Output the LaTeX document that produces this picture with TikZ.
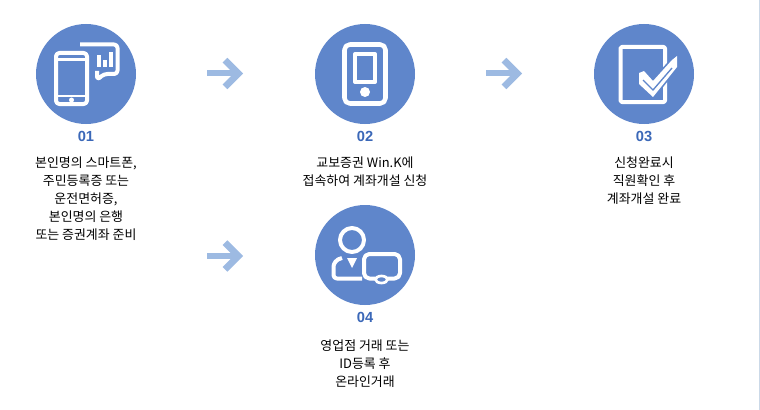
\documentclass[tikz,border=0pt]{standalone}
\usepackage{fontspec}
\setmainfont{Noto Sans CJK KR}
\newfontfamily\numfont{Liberation Sans}
\usetikzlibrary{arrows.meta}
\definecolor{circleblue}{HTML}{5F86CB}
\definecolor{arrowblue}{HTML}{9DBAE2}
\definecolor{numblue}{HTML}{3B68B8}
\definecolor{edgeline}{HTML}{CBD9E8}
\tikzset{
	stepcircle/.style = {circle, fill=circleblue, minimum size=75pt, inner sep=0pt},
	numlabel/.style = {text=numblue, font=\numfont\fontsize{11}{12}\selectfont\bfseries},
	desc/.style = {align=center, font=\fontsize{9.7}{13.5}\selectfont},
	icon/.style = {draw=white, line width=3pt, rounded corners=2.5pt, line join=round},
	flow/.style = {draw=arrowblue, line width=4.5pt, -{Straight Barb[length=10pt, width=20pt, line width=5pt]}},
}
\begin{document}
\begin{tikzpicture}[x=0.75pt, y=-0.75pt]
	\useasboundingbox (0,0) rectangle (760,410);
	\draw[draw=edgeline, line width=0.75pt] (759.5,0) -- (759.5,410);

	\node[stepcircle] (c1) at (86,74) {};
	\node[stepcircle] (c2) at (365,74) {};
	\node[stepcircle] (c3) at (644,74) {};
	\node[stepcircle] (c4) at (365,255) {};

	\node[numlabel] (n1) at (86,136) {01};
	\node[numlabel] (n2) at (365,136) {02};
	\node[numlabel] (n3) at (644,136) {03};
	\node[numlabel] (n4) at (365,317) {04};

	\node[desc, anchor=north] (t1) at (86,152) {본인명의 스마트폰,\\주민등록증 또는\\운전면허증,\\본인명의 은행\\또는 증권계좌 준비};
	\node[desc, anchor=north] (t2) at (365,152) {교보증권 Win.K에\\접속하여 계좌개설 신청};
	\node[desc, anchor=north] (t3) at (644,152) {신청완료시\\직원확인 후\\계좌개설 완료};
	\node[desc, anchor=north] (t4) at (365,335) {영업점 거래 또는\\ID등록 후\\온라인거래};

	% arrows
	\coordinate (a1) at (207,73.5);
	\coordinate (b1) at (243,73.5);
	\coordinate (a2) at (486,73.5);
	\coordinate (b2) at (522,73.5);
	\coordinate (a3) at (207,256);
	\coordinate (b3) at (243,256);
	\draw[flow] (a1) -- (b1);
	\draw[flow] (a2) -- (b2);
	\draw[flow] (a3) -- (b3);

	% icon 01
	\draw[icon] (80,44.5) -- (117.5,44.5) -- (117.5,74) -- (104,74) -- (97,80) -- (97,71);
	\draw[icon, fill=circleblue] (56,53) rectangle (87,104);
	\draw[icon, line width=2.2pt] (56,59.5) -- (87,59.5);
	\draw[icon, line width=2.2pt] (56,96) -- (87,96);
	\fill[white] (71.5,100) circle (2.5);
	\fill[white] (97,55) rectangle (101,67);
	\fill[white] (102.5,60) rectangle (107,67);
	\fill[white] (108.5,52) rectangle (113,67);

	% icon 02
	\draw[icon, line width=3.4pt, rounded corners=4pt] (344.5,44.5) rectangle (385.5,103.5);
	\draw[icon, rounded corners=0pt] (355,54) rectangle (375,82);
	\fill[white] (365,92) circle (5);

	% icon 03
	\draw[icon, rounded corners=1pt] (620.5,47) rectangle (665,102);
	\draw[draw=circleblue, fill=white, line width=2.5pt, line join=round] (639,73) -- (644,71) -- (653,81) -- (672,60) -- (677,56) -- (677,67) -- (653,97) -- (639,84) -- cycle;
	\fill[white] (639,73) -- (644,71) -- (653,81) -- (672,60) -- (677,56) -- (677,67) -- (653,97) -- (639,84) -- cycle;
	\draw[draw=circleblue, line width=1pt] (643,80) -- (653,90) -- (672,68);

	% icon 04
	\draw[icon] (352,240) circle (12);
	\draw[icon] (342,258) .. controls (336,259) and (333.5,264) .. (333.5,270) -- (333.5,278.5) -- (362,278.5);
	\fill[white] (347,258) -- (357,258) -- (352,268) -- cycle;
	\draw[icon, rounded corners=4pt] (364,254) rectangle (400,278.5);
	\draw[draw=white, fill=circleblue, line width=2pt] (381.5,279.5) ellipse (6 and 3.5);
\end{tikzpicture}
\end{document}
